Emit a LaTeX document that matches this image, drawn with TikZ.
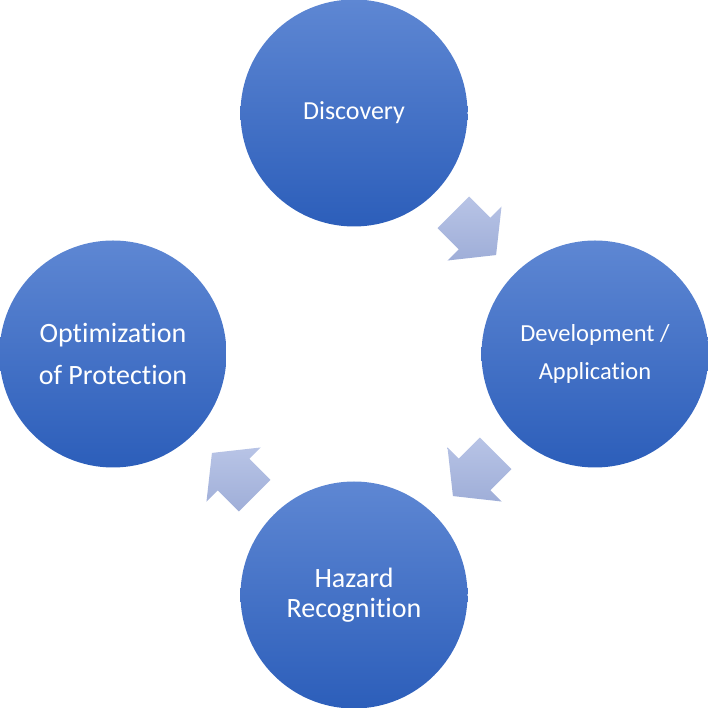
\documentclass[tikz,border=0pt]{standalone}
\usepackage{fontspec}
\setmainfont[Ligatures=NoCommon]{Carlito}
\usetikzlibrary{calc}

\definecolor{circtop}{HTML}{5E87D3}
\definecolor{circbot}{HTML}{2C5EBA}
\definecolor{arrtop}{HTML}{B8C4E6}
\definecolor{arrbot}{HTML}{9FAED8}

\begin{document}
\begin{tikzpicture}[
    x=1pt, y=1pt,
    stage/.style={circle, minimum size=227pt, inner sep=0pt, top color=circtop, bottom color=circbot, text=white, align=center, font=\fontsize{28}{30}\selectfont},
    flowarrow/.pic={
        \shade[top color=arrtop, bottom color=arrbot]
            (-30,-22.3) -- (0,-22.3) -- (0,-38.2) -- (30.5,0) -- (0,38.2) -- (0,22.3) -- (-30,22.3) -- cycle;
    }
]

% Obszar rysunku
\useasboundingbox (0,0) rectangle (708,708);

% Etapy cyklu
\node[stage, font=\fontsize{26}{30}\selectfont] (disc) at (354,595) {Discovery};
\node[stage, font=\fontsize{24.5}{30}\selectfont] (dev) at (595,354) {Development /\\[8pt]Application};
\node[stage] (haz) at (354,113) {Hazard\\Recognition};
\node[stage] (opt) at (113,354) {Optimization\\[11.7pt]of Protection};

% Strzalki miedzy etapami
\pic[rotate=-45] at ($(disc)!0.5!(dev)$) {flowarrow};
\pic[rotate=-135] at ($(dev)!0.5!(haz)$) {flowarrow};
\pic[rotate=135] at ($(haz)!0.5!(opt)$) {flowarrow};

\end{tikzpicture}
\end{document}
